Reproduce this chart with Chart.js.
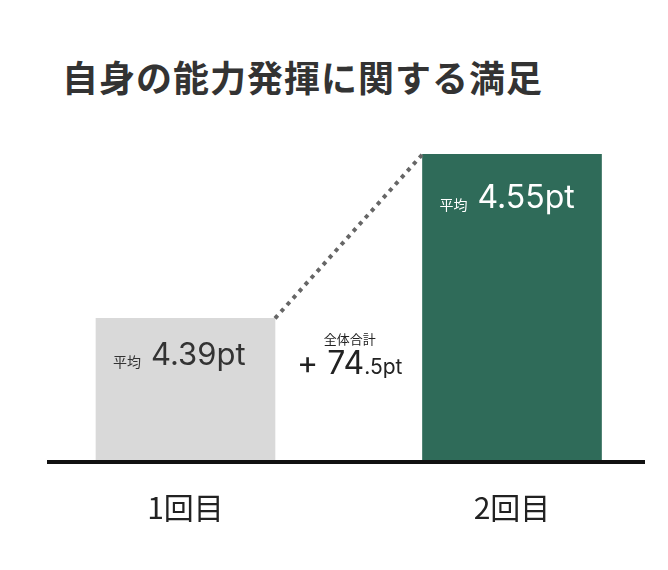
<!DOCTYPE html>
<html lang="ja">
<head>
<meta charset="utf-8">
<script src="https://cdn.jsdelivr.net/npm/chart.js@4.4.0/dist/chart.umd.min.js"></script>
<style>
    html, body { margin: 0; padding: 0; background: #fff; }
    #wrap { position: relative; width: 668px; height: 570px; }
    #chart-title {
        position: absolute; left: 62px; top: 58px; margin: 0;
        font: bold 36px/1 "Noto Sans CJK JP", sans-serif;
        color: #333; letter-spacing: 1px; white-space: nowrap;
    }
    canvas { position: absolute; left: 0; top: 0; }
</style>
</head>
<body>
<div id="wrap">
    <h1 id="chart-title">自身の能力発揮に関する満足</h1>
    <canvas id="satisfaction-chart" width="668" height="570"></canvas>
</div>
<script>
// データ
const categories = ['1回目', '2回目'];
const averageValues = [4.39, 4.55];
const barColors = ['#d9d9d9', '#2f6b59'];
const valueTextColors = ['#333333', '#ffffff'];
const totalLabel = '全体合計';
const totalChange = 74.5;
const axisMin = 4.25;
const axisMax = 4.6;

const jpFont = '"Noto Sans CJK JP", sans-serif';
const numFont = 'Inter, "Liberation Sans", sans-serif';

/**
 * 棒の中の平均値・棒の間の点線・全体合計を描く
 */
const barAnnotations = {
    id: 'barAnnotations',
    afterDatasetsDraw(chart, args, opts) {
        let ctx = chart.ctx;
        let bars = chart.getDatasetMeta(0).data;
        let b1 = bars[0];
        let b2 = bars[1];

        ctx.save();

        // 棒の間の点線
        ctx.strokeStyle = '#666';
        ctx.lineWidth = 4;
        ctx.setLineDash([4, 5]);
        ctx.beginPath();
        ctx.moveTo(b1.x + b1.width / 2, b1.y);
        ctx.lineTo(b2.x - b2.width / 2, b2.y);
        ctx.stroke();
        ctx.setLineDash([]);

        // 棒の中の平均値
        ctx.textBaseline = 'alphabetic';
        ctx.textAlign = 'left';
        for (let i = 0; i < bars.length; i++) {
            let bar = bars[i];
            let x = bar.x - bar.width / 2 + 17;
            let y = bar.y + opts.valueOffsets[i];
            ctx.fillStyle = valueTextColors[i];
            ctx.font = '14px ' + jpFont;
            ctx.fillText('平均', x, y + 2);
            x += ctx.measureText('平均').width + 10;
            ctx.font = opts.valueSizes[i] + 'px ' + numFont;
            ctx.fillText(averageValues[i].toFixed(2) + 'pt', x, y);
        }

        // 全体合計
        let cx = (b1.x + b1.width / 2 + b2.x - b2.width / 2) / 2 + 1;
        ctx.fillStyle = '#222';
        ctx.textAlign = 'center';
        ctx.font = '13px ' + jpFont;
        ctx.fillText(totalLabel, cx, 344);

        let parts = totalChange.toFixed(1).split('.');
        let bigText = '+ ' + parts[0];
        let smallText = '.' + parts[1] + 'pt';
        ctx.font = '32px ' + numFont;
        let bigW = ctx.measureText(bigText).width;
        ctx.font = '21px ' + numFont;
        let smallW = ctx.measureText(smallText).width;
        let sx = cx - (bigW + smallW) / 2;
        ctx.textAlign = 'left';
        ctx.font = '32px ' + numFont;
        ctx.fillText(bigText, sx, 374);
        ctx.font = '21px ' + numFont;
        ctx.fillText(smallText, sx + bigW, 374);

        ctx.restore();
    },
    afterDraw(chart) {
        // ベースライン
        let ctx = chart.ctx;
        let y = chart.scales.y.getPixelForValue(chart.scales.y.min);
        ctx.save();
        ctx.strokeStyle = '#111';
        ctx.lineWidth = 4;
        ctx.beginPath();
        ctx.moveTo(47, y);
        ctx.lineTo(645, y);
        ctx.stroke();
        ctx.restore();
    }
};

window.onload = function () {
    let ctx = document.getElementById('satisfaction-chart').getContext('2d');
    new Chart(ctx, {
        type: 'bar',
        data: {
            labels: categories,
            datasets: [{
                data: averageValues,
                backgroundColor: barColors,
                borderWidth: 0,
                barThickness: 179,
                base: axisMin,
                clip: false,
            }]
        },
        options: {
            responsive: false,
            animation: false,
            layout: {
                padding: { left: 185.5, right: 156, top: 103, bottom: 16 }
            },
            scales: {
                x: {
                    offset: false,
                    grid: { display: false, drawTicks: false },
                    border: { display: false },
                    ticks: {
                        padding: 28,
                        color: '#222',
                        font: { family: jpFont, size: 30 },
                        maxRotation: 0,
                    }
                },
                y: {
                    display: false,
                    min: axisMin,
                    max: axisMax,
                }
            },
            plugins: {
                legend: { display: false },
                tooltip: { enabled: false },
                barAnnotations: {
                    valueOffsets: [47, 54],
                    valueSizes: [31, 32],
                }
            }
        },
        plugins: [barAnnotations]
    });
}
</script>
</body>
</html>
